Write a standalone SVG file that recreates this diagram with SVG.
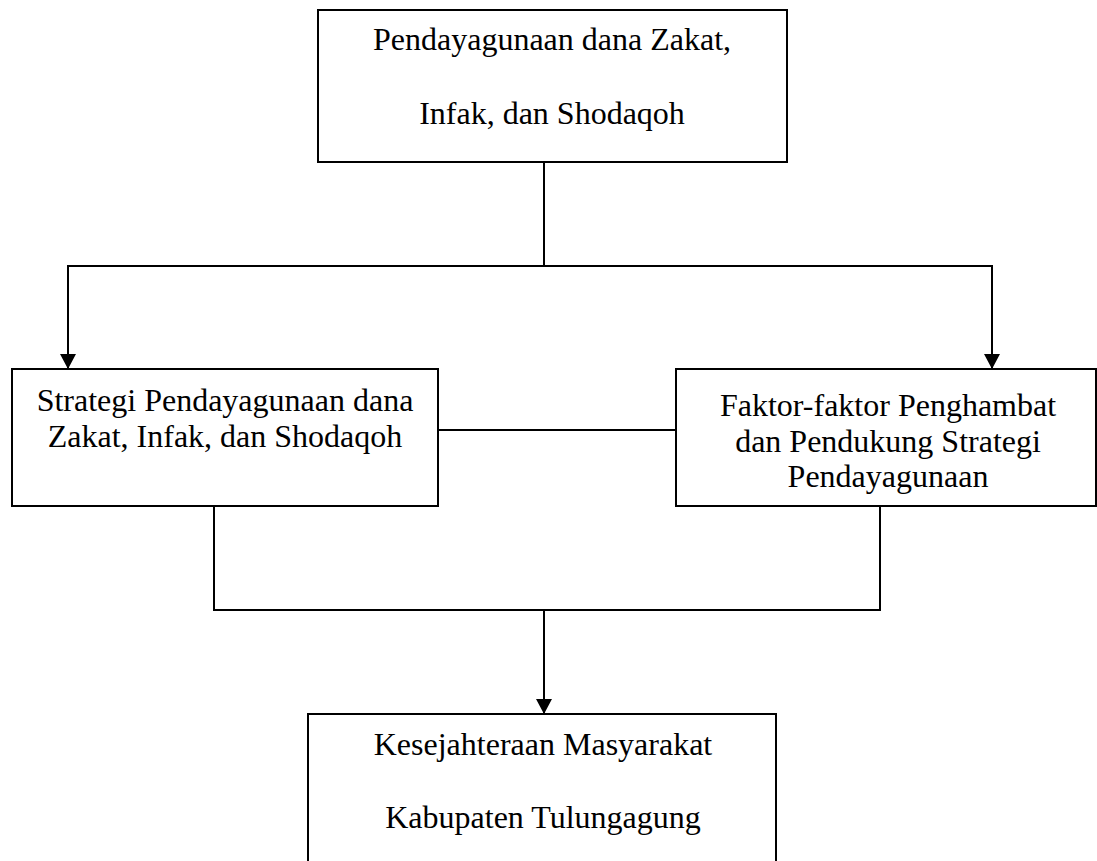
<svg xmlns="http://www.w3.org/2000/svg" width="1097" height="861" viewBox="0 0 1097 861">
  <style>
    .box { fill: #ffffff; stroke: #000000; stroke-width: 2; }
    .lbl { font-family: "Liberation Serif", "Times New Roman", serif; font-size: 32px; fill: #000000; text-anchor: middle; }
    .conn { fill: none; stroke: #000000; stroke-width: 2; stroke-linejoin: miter; }
  </style>
  <defs>
    <marker id="arrow" markerUnits="userSpaceOnUse" markerWidth="16" markerHeight="16" refX="15" refY="8" orient="auto">
      <path d="M0,0 L15,8 L0,16 z" fill="#000000"/>
    </marker>
  </defs>
  <rect width="1097" height="861" fill="#ffffff"/>
  <g id="connectors">
    <path class="conn" d="M544,162 V266 H68 V369" marker-end="url(#arrow)"/>
    <path class="conn" d="M544,266 H992 V369" marker-end="url(#arrow)"/>
    <path class="conn" d="M438,430 H676"/>
    <path class="conn" d="M214,506 V610 H880 V506"/>
    <path class="conn" d="M544,610 V714" marker-end="url(#arrow)"/>
  </g>
  <g id="node-top">
    <rect class="box" x="318" y="10" width="469" height="152"/>
    <text class="lbl" x="552" y="50">Pendayagunaan dana Zakat,</text>
    <text class="lbl" x="552" y="124">Infak, dan Shodaqoh</text>
  </g>
  <g id="node-strategi">
    <rect class="box" x="12" y="369" width="426" height="137"/>
    <text class="lbl" x="225" y="411">Strategi Pendayagunaan dana</text>
    <text class="lbl" x="225" y="447">Zakat, Infak, dan Shodaqoh</text>
  </g>
  <g id="node-faktor">
    <rect class="box" x="676" y="369" width="420" height="137"/>
    <text class="lbl" x="888" y="416">Faktor-faktor Penghambat</text>
    <text class="lbl" x="888" y="452">dan Pendukung Strategi</text>
    <text class="lbl" x="888" y="487">Pendayagunaan</text>
  </g>
  <g id="node-kesejahteraan">
    <rect class="box" x="308" y="714" width="468" height="200"/>
    <text class="lbl" x="543" y="755">Kesejahteraan Masyarakat</text>
    <text class="lbl" x="543" y="828">Kabupaten Tulungagung</text>
  </g>
</svg>
